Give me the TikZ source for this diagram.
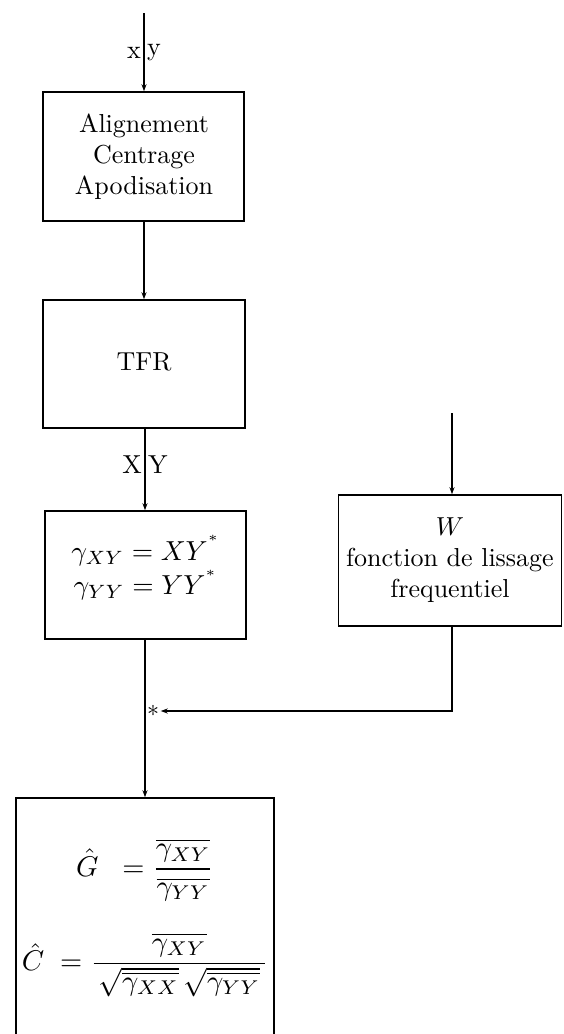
\documentclass[tikz,border=0pt]{standalone}
\usepackage{amsmath}
\usepackage{graphicx}
\usetikzlibrary{arrows.meta}
\newcommand{\sctext}[2]{\scalebox{#1}{\begin{tabular}{@{}c@{}}#2\end{tabular}}}
\begin{document}
\begin{tikzpicture}[x=1pt,y=-1pt,
  box/.style={draw,line width=1.5pt,rectangle,inner sep=0pt},
  txt/.style={inner sep=0pt},
  arr/.style={line width=1.5pt,-{Stealth[length=7pt,width=5pt]}}]
\useasboundingbox (0,0) rectangle (563,1034);
% boxes
\node[box,minimum width=201pt,minimum height=129pt] (b1) at (143.5,156.5) {};
\node[txt] (t1) at (144,157) {\sctext{2.6}{Alignement\\Centrage\\Apodisation}};
\node[box,minimum width=202pt,minimum height=128pt] (b2) at (144,364) {};
\node[txt] (t2) at (144,364) {\sctext{2.6}{TFR}};
\node[box,minimum width=201pt,minimum height=128pt] (b3) at (145.5,575) {};
\node[txt] (t3) at (146,570) {\sctext{2.75}{$\gamma_{XY} = XY^{^{*}}$\\$\gamma_{YY} = YY^{^{*}}$}};
\node[box,minimum width=223pt,minimum height=131pt] (bw) at (450,560.5) {};
\node[txt] (tw) at (450,560) {\sctext{2.6}{$W$\\fonction de lissage\\frequentiel}};
\node[box,minimum width=258pt,minimum height=252pt] (b4) at (145,924) {};
\node[txt] (g) at (145,870) {\scalebox{2.85}{$\displaystyle \hat{G}\;\; = \frac{\overline{\gamma_{XY}}}{\overline{\gamma_{YY}}}$}};
\node[txt] (c) at (145,965) {\scalebox{2.85}{$\displaystyle \hat{C}\; = \frac{\overline{\gamma_{XY}}}{\,\sqrt{\overline{\gamma_{XX}}}\,\sqrt{\overline{\gamma_{YY}}}\,}$}};
% free ends
\coordinate (top) at (144,13);
\coordinate (rtop) at (452,413);
% connectors
\draw[arr] (top) -- (top |- b1.north);
\node[txt,anchor=east] (lx) at (141,53) {\scalebox{2.6}{x}};
\node[txt,anchor=west] (ly) at (147,53) {\scalebox{2.6}{y}};
\draw[arr] (b1.south -| 144,0) -- (b2.north -| 144,0);
\draw[arr] (b2.south -| 145,0) -- (b3.north -| 145,0);
\node[txt,anchor=east] (lX) at (142,465) {\scalebox{2.6}{X}};
\node[txt,anchor=west] (lY) at (148,465) {\scalebox{2.6}{Y}};
\draw[arr] (b3.south -| 145,0) -- (b4.north -| 145,0);
\draw[arr] (rtop) -- (rtop |- bw.north);
\node[inner sep=1.5pt] (star) at (153,711) {\scalebox{2.4}{$\ast$}};
\draw[arr] (bw.south -| 452,0) |- (star.east);
\end{tikzpicture}
\end{document}
